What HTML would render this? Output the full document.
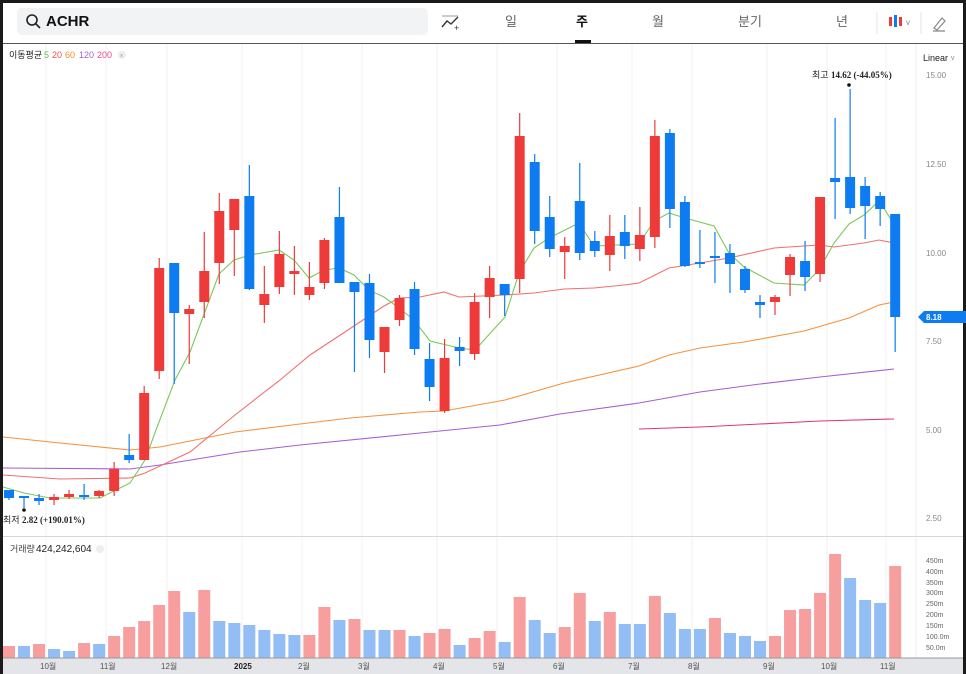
<!DOCTYPE html>
<html><head><meta charset="utf-8"><style>
html,body{margin:0;padding:0;background:#1b1b1b;}
#w{position:relative;width:966px;height:674px;overflow:hidden;font-family:"Liberation Sans","Noto Sans CJK KR",sans-serif;}
svg{position:absolute;left:0;top:0}
</style></head><body><div id="w">
<svg id="s" width="966" height="674" viewBox="0 0 966 674" xmlns="http://www.w3.org/2000/svg">
<rect x="3" y="3" width="960" height="671" fill="#fff"/>
<rect x="17" y="8" width="411" height="27" rx="5" fill="#f2f3f5"/>
<circle cx="32" cy="20" r="5" fill="none" stroke="#222" stroke-width="1.6"/>
<line x1="36" y1="24" x2="40" y2="28" stroke="#222" stroke-width="1.6"/>
<text x="46" y="26" font-size="15" font-weight="bold" fill="#111">ACHR</text>
<line x1="442" y1="16" x2="458" y2="16" stroke="#999" stroke-width="1"/>
<polyline points="442,27 447,21 451,24 458,17" fill="none" stroke="#333" stroke-width="1.4"/>
<text x="454" y="31" font-size="9" fill="#333">+</text>
<g font-size="13" fill="#666"><text x="505" y="26">일</text><text x="576" y="26" fill="#111" font-weight="bold">주</text><text x="652" y="26">월</text><text x="738" y="26">분기</text><text x="836" y="26">년</text></g>
<rect x="575" y="40" width="16" height="3" fill="#111"/>
<line x1="877" y1="12" x2="877" y2="34" stroke="#e5e5e5"/>
<rect x="889" y="17" width="3" height="9" fill="#ef3a3a"/><rect x="894" y="15" width="3" height="12" fill="#0d7cf0"/><rect x="899" y="17" width="3" height="9" fill="#ef3a3a"/>
<text x="906" y="25" font-size="8" fill="#888">v</text>
<line x1="921" y1="12" x2="921" y2="34" stroke="#e5e5e5"/>
<path d="M934 28 L942 18 L945 21 L937 30 Z M933 31 L945 31" fill="none" stroke="#888" stroke-width="1.2"/>
<line x1="3" y1="43.5" x2="963" y2="43.5" stroke="#555" stroke-width="1"/>
<g id="grid" stroke="#f0f0f2" stroke-width="1"></g>
<line x1="916" y1="44" x2="916" y2="658" stroke="#eee"/>
<line x1="3" y1="536.5" x2="963" y2="536.5" stroke="#d8d8d8"/>
<g font-size="9" fill="#222"><text x="9" y="58">이동평균</text><text x="44" y="58" fill="#5cbf4a">5</text><text x="52" y="58" fill="#f05050">20</text><text x="65" y="58" fill="#f0902a">60</text><text x="79" y="58" fill="#a55fd0">120</text><text x="97" y="58" fill="#e84a8a">200</text></g>
<circle cx="122" cy="55" r="4" fill="#eee"/><text x="119.5" y="58" font-size="7" fill="#aaa">×</text>
<text x="923" y="61" font-size="9" fill="#222">Linear</text><text x="951" y="60" font-size="7" fill="#888">v</text>
<g font-size="8" fill="#888"><text x="926" y="78">15.00</text><text x="926" y="167">12.50</text><text x="926" y="256">10.00</text><text x="926" y="344">7.50</text><text x="926" y="433">5.00</text><text x="926" y="521">2.50</text></g>
<path d="M918 317 L924 311 L966 311 L966 323 L924 323 Z" fill="#0d7cf0"/>
<text x="926" y="320" font-size="8" fill="#fff" font-weight="bold">8.18</text>
<g fill="none" stroke-width="1.1">
<polyline stroke="#e03a6a" points="639,429 700,427 760,424 820,421 894,419"/>
<polyline stroke="#a55fd0" points="3,468 130,469 160,465 240,452 300,445 420,433 500,425 560,414 639,403 700,392 760,384 820,377 894,369"/>
<polyline stroke="#f5923e" points="3,437 60,443 130,450 160,447 235,432 300,424 350,418 420,412 444,411 505,400 564,383 639,366 669,355 700,348 744,342 804,331 849,318 879,305 894,302"/>
<polyline stroke="#f07070" points="3,475 60,479 130,478 145,473 190,452 235,415 280,380 310,355 354,326 384,306 399,298 420,297 444,292 459,297 505,295 534,293 564,289 594,288 624,285 639,283 669,268 700,263 729,258 774,248 819,245 834,247 864,243 879,240 894,243"/>
<polyline stroke="#7cc85a" points="3,487 24,493 50,498 100,498 130,483 145,460 156,430 175,380 190,352 219,274 234,260 250,255 279,250 294,260 309,278 324,270 339,268 354,275 369,290 384,297 399,308 414,320 430,341 459,348 475,350 505,317 519,273 534,248 549,238 579,223 594,246 639,244 654,221 669,213 685,218 714,226 729,253 744,267 774,283 804,285 819,270 834,243 849,224 864,215 879,201 894,224"/>
</g>
<g id="c"></g>
<circle cx="24" cy="510" r="1.8" fill="#111"/>
<text x="3" y="523" font-size="9" fill="#222">최저</text>
<text x="22" y="523" font-size="9" fill="#222" font-family="Liberation Serif,serif" font-weight="bold">2.82 (+190.01%)</text>
<circle cx="849" cy="85" r="1.8" fill="#111"/>
<text x="812" y="78" font-size="9" fill="#222">최고</text>
<text x="831" y="78" font-size="9" fill="#222" font-family="Liberation Serif,serif" font-weight="bold">14.62 (-44.05%)</text>
<text x="10" y="552" font-size="9" fill="#444">거래량</text><text x="36" y="552" font-size="10" fill="#222">424,242,604</text>
<circle cx="100" cy="549" r="4" fill="#eee"/>
<g font-size="7" fill="#666"><text x="926" y="563">450m</text><text x="926" y="574">400m</text><text x="926" y="585">350m</text><text x="926" y="595">300m</text><text x="926" y="606">250m</text><text x="926" y="617">200m</text><text x="926" y="628">150m</text><text x="926" y="639">100.0m</text><text x="926" y="650">50.0m</text></g>
<g id="v"></g>
<rect x="3" y="658" width="960" height="16" fill="#e4e5e8"/>
<line x1="3" y1="658" x2="963" y2="658" stroke="#999"/>
<g font-size="8" fill="#555"><text x="40" y="669">10월</text><text x="100" y="669">11월</text><text x="161" y="669">12월</text><text x="234" y="669" font-weight="bold" fill="#222">2025</text><text x="298" y="669">2월</text><text x="358" y="669">3월</text><text x="433" y="669">4월</text><text x="493" y="669">5월</text><text x="553" y="669">6월</text><text x="628" y="669">7월</text><text x="688" y="669">8월</text><text x="763" y="669">9월</text><text x="821" y="669">10월</text><text x="880" y="669">11월</text></g>
</svg>
<script>
var NS="http://www.w3.org/2000/svg";
function el(p,t,a){var e=document.createElementNS(NS,t);for(var k in a)e.setAttribute(k,a[k]);document.getElementById(p).appendChild(e);}
[46,106,167,242,302,362,437,497,557,632,692,767,827,886].forEach(function(x){el("grid","line",{x1:x,y1:44,x2:x,y2:658});});
var C=[[490,490,498,500,'b'],[496,496,498,508,'b'],[494,498,501,505,'b'],[494,497,500,505,'r'],[490,494,497,499,'r'],[484,495,497,500,'b'],[490,491,496,498,'r'],[462,469,491,496,'r'],[434,455,460,463,'b'],[386,393,460,460,'r'],
[258,268,371,379,'r'],[263,263,313,384,'b'],[305,309,314,364,'r'],[232,271,302,318,'r'],[193,211,263,284,'r'],[199,199,230,276,'r'],[165,196,289,290,'b'],[266,294,305,323,'r'],[231,254,287,294,'r'],[246,271,274,295,'r'],
[262,287,295,300,'r'],[238,240,283,289,'r'],[187,217,283,283,'b'],[282,282,292,372,'b'],[274,283,340,358,'b'],[327,327,352,373,'r'],[295,298,320,326,'r'],[282,289,349,355,'b'],[343,359,387,401,'b'],[339,358,411,413,'r'],
[337,347,351,366,'b'],[293,302,354,360,'r'],[266,278,297,318,'r'],[284,284,295,316,'b'],[113,136,279,293,'r'],[154,162,231,244,'b'],[196,217,249,257,'b'],[237,246,252,279,'r'],[163,201,253,260,'b'],[231,241,251,257,'b'],
[215,236,255,271,'r'],[215,232,246,259,'b'],[207,235,249,261,'r'],[120,136,237,248,'r'],[129,133,209,228,'b'],[196,202,266,267,'b'],[230,262,264,268,'b'],[232,256,258,283,'b'],[244,253,264,293,'b'],[266,269,290,293,'b'],
[295,302,305,318,'b'],[295,297,302,315,'r'],[254,257,275,296,'r'],[241,261,277,291,'b'],[197,197,274,282,'r'],[118,178,182,219,'b'],[89,177,208,214,'b'],[177,186,206,239,'b'],[192,196,209,226,'b'],[214,214,317,352,'b']];
C.forEach(function(c,i){var x=9+i*15.02;var col=c[4]=='r'?'#ef3a3a':'#0d7cf0';
el("c","line",{x1:x,y1:c[0],x2:x,y2:c[3],stroke:col,"stroke-width":1.2});
el("c","rect",{x:x-5,y:c[1],width:10,height:Math.max(2,c[2]-c[1]),fill:col});});
var V=[[646,'r'],[646,'b'],[644,'r'],[649,'b'],[651,'b'],[643,'r'],[644,'b'],[636,'r'],[627,'r'],[621,'r'],[605,'r'],[591,'r'],[612,'b'],[590,'r'],[621,'b'],[623,'b'],[625,'b'],[630,'b'],[634,'b'],[635,'b'],
[635,'r'],[607,'r'],[620,'b'],[619,'r'],[630,'b'],[630,'b'],[630,'r'],[636,'b'],[633,'r'],[629,'r'],[645,'b'],[638,'r'],[631,'r'],[642,'b'],[597,'r'],[620,'b'],[633,'b'],[627,'r'],[593,'r'],[621,'b'],
[612,'r'],[624,'b'],[624,'b'],[596,'r'],[613,'b'],[629,'b'],[629,'b'],[618,'r'],[633,'b'],[636,'b'],[641,'b'],[636,'r'],[610,'r'],[609,'r'],[593,'r'],[554,'r'],[578,'b'],[600,'b'],[603,'b'],[566,'r']];
V.forEach(function(v,i){var x=9+i*15.02;el("v","rect",{x:x-6,y:v[0],width:12,height:658-v[0],fill:v[1]=='r'?'#f79f9f':'#93bdf5'});});
</script>
</div></body></html>
